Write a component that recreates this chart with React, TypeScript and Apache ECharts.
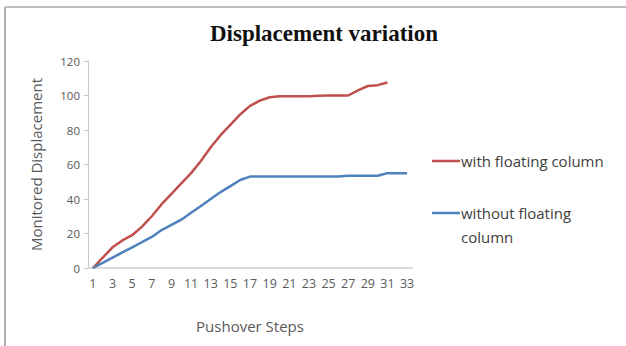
import React, { useEffect, useRef } from "react";
import * as echarts from "echarts";

const steps: string[] = Array.from({ length: 33 }, (_, i) => String(i + 1));
const withFloating: number[] = [
  0, 6, 12, 16, 19, 24, 30, 37, 43, 49, 55, 62, 70, 77, 83, 89, 94, 97, 99,
  99.5, 99.5, 99.5, 99.5, 99.8, 100, 100, 100, 103, 105.5, 106, 107.5,
];
const withoutFloating: number[] = [
  0, 3, 6, 9, 12, 15, 18, 22, 25, 28, 32, 36, 40, 44, 47.5, 51, 53, 53, 53, 53,
  53, 53, 53, 53, 53, 53, 53.5, 53.5, 53.5, 53.5, 55, 55, 55,
];
const seriesNames = ["with floating column", "without floating column"];
const yTicks = { min: 0, max: 120, interval: 20 };

const RED = "#C0504D";
const BLUE = "#4F81BD";
const SANS = "'Open Sans', 'Liberation Sans', sans-serif";
const TEXT = "#595959";

export default function App() {
  const ref = useRef<HTMLDivElement>(null);
  useEffect(() => {
    if (!ref.current) return;
    const chart = echarts.init(ref.current, null, { renderer: "svg" });
    const legendText = (x: number, y: number, text: string) => ({
      type: "text",
      x,
      y,
      style: {
        text,
        fontFamily: SANS,
        fontSize: 15,
        fill: "#404040",
        verticalAlign: "middle",
      },
    });
    chart.setOption({
      animation: false,
      backgroundColor: "#ffffff",
      title: {
        text: "Displacement variation",
        left: 319,
        top: 17,
        textAlign: "center",
        textStyle: {
          fontFamily: "'Liberation Serif', 'DejaVu Serif', serif",
          fontWeight: "bold",
          fontSize: 23,
          color: "#111111",
        },
      },
      grid: { left: 88, right: 214, top: 61, bottom: 78 },
      xAxis: {
        type: "category",
        data: steps,
        boundaryGap: true,
        name: "Pushover Steps",
        nameLocation: "middle",
        nameGap: 50,
        nameTextStyle: { fontFamily: SANS, fontSize: 15, color: TEXT },
        axisLine: { lineStyle: { color: "#d9d9d9", width: 2 } },
        axisTick: { show: false },
        axisLabel: {
          interval: 1,
          margin: 9,
          fontFamily: SANS,
          fontSize: 12.5,
          color: TEXT,
        },
      },
      yAxis: {
        type: "value",
        min: yTicks.min,
        max: yTicks.max,
        interval: yTicks.interval,
        name: "Monitored Displacement",
        nameLocation: "middle",
        nameGap: 45,
        nameTextStyle: { fontFamily: SANS, fontSize: 15, color: TEXT },
        axisLine: { show: true, lineStyle: { color: "#c8c8c8", width: 1 } },
        axisTick: { show: true, length: 4, lineStyle: { color: "#c8c8c8" } },
        splitLine: { show: false },
        axisLabel: { fontFamily: SANS, fontSize: 11.5, color: TEXT, margin: 8 },
      },
      series: [
        {
          name: seriesNames[0],
          type: "line",
          data: withFloating,
          symbol: "none",
          lineStyle: { color: RED, width: 2.5 },
        },
        {
          name: seriesNames[1],
          type: "line",
          data: withoutFloating,
          symbol: "none",
          lineStyle: { color: BLUE, width: 2.5 },
        },
      ],
      graphic: [
        // frame edges around the figure
        {
          type: "line",
          shape: { x1: 5, y1: 7, x2: 626, y2: 7 },
          style: { stroke: "#a8a8a8", lineWidth: 1.5 },
          silent: true,
        },
        {
          type: "line",
          shape: { x1: 5, y1: 7, x2: 5, y2: 346 },
          style: { stroke: "#b0b0b0", lineWidth: 2 },
          silent: true,
        },
        {
          type: "line",
          shape: { x1: 432, y1: 161, x2: 460, y2: 161 },
          style: { stroke: RED, lineWidth: 2.5 },
        },
        legendText(461, 161, "with floating column"),
        {
          type: "line",
          shape: { x1: 432, y1: 213, x2: 460, y2: 213 },
          style: { stroke: BLUE, lineWidth: 2.5 },
        },
        legendText(461, 213, "without floating"),
        legendText(461, 237, "column"),
      ],
    });
    return () => chart.dispose();
  }, []);
  return (
    <div
      ref={ref}
      style={{ width: 626, height: 346, position: "absolute", left: 0, top: 0 }}
    />
  );
}
